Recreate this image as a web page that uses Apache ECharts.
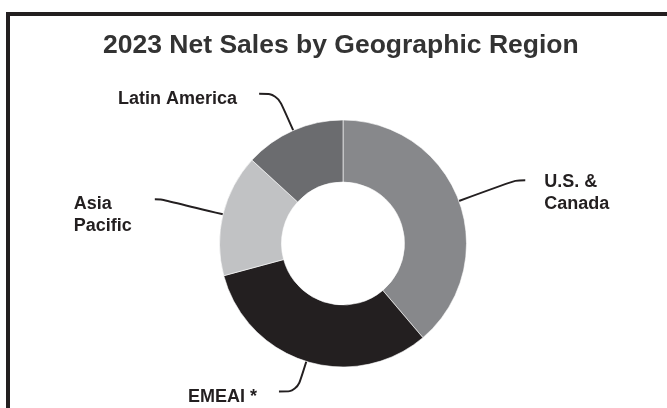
<!DOCTYPE html>
<html>
<head>
<meta charset="utf-8">
<script src="https://cdn.jsdelivr.net/npm/echarts@6/dist/echarts.min.js"></script>
<style>
  html, body { margin: 0; padding: 0; background: #fff; }
  #chart { width: 667px; height: 408px; }
</style>
</head>
<body>
<div id="chart"></div>
<script>
// ---- data ----
var titleText = '2023 Net Sales by Geographic Region';
var regions = ['U.S. &\nCanada', 'EMEAI *', 'Asia\nPacific', 'Latin America'];
var shares = [38.8, 32.0, 16.0, 13.2];

// ---- styling (not data) ----
var sliceColors = ['#87888b', '#231f20', '#c1c2c4', '#6b6c6f'];
var lineLen  = [60, 31.5, 64, 40];
var lineLen2 = [10, 18, 6, 18];
var labelPadTop = [25, 11, 32, 10];
var labelGap = [19, 22, 23, 22];
var FONT = '"Liberation Sans", Arial, Helvetica, sans-serif';
var INK = '#231f20';

var data = regions.map(function (name, i) {
  return {
    name: name,
    value: shares[i],
    itemStyle: { color: sliceColors[i] },
    label: {
      padding: [labelPadTop[i], 0, 0, 0],
      distanceToLabelLine: labelGap[i]
    },
    labelLine: { length: lineLen[i], length2: lineLen2[i] }
  };
});

var chart = echarts.init(document.getElementById('chart'), null, { renderer: 'canvas' });
chart.setOption({
  backgroundColor: '#ffffff',
  animation: false,
  title: {
    text: titleText,
    left: 98,
    top: 27,
    textStyle: { fontFamily: FONT, fontWeight: 'bold', fontSize: 26.5, color: '#333333' }
  },
  graphic: [
    { type: 'line', silent: true, shape: { x1: 6, y1: 14, x2: 667, y2: 14 }, style: { stroke: INK, lineWidth: 4 } },
    { type: 'line', silent: true, shape: { x1: 8, y1: 12, x2: 8, y2: 408 }, style: { stroke: INK, lineWidth: 4 } }
  ],
  series: [{
    type: 'pie',
    center: [343, 243.5],
    radius: [61.5, 123.5],
    startAngle: 90,
    clockwise: true,
    avoidLabelOverlap: false,
    itemStyle: { borderColor: '#ffffff', borderWidth: 0.6 },
    label: {
      show: true,
      position: 'outside',
      formatter: function (p) {
        return p.name.split('\n').map(function (s) { return '{a|' + s + '}'; }).join('\n');
      },
      rich: {
        a: { fontFamily: FONT, fontWeight: 'bold', fontSize: 18, lineHeight: 22, color: INK, align: 'left' }
      }
    },
    labelLine: {
      show: true,
      smooth: 0.35,
      lineStyle: { color: INK, width: 2 }
    },
    emphasis: { disabled: true },
    data: data
  }]
});
</script>
</body>
</html>
